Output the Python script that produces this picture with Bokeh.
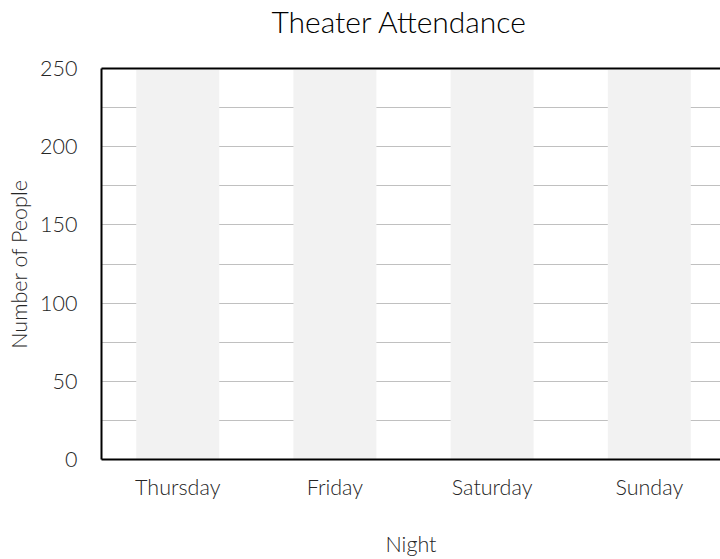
import numpy as np
from bokeh.plotting import figure
from bokeh.models import Range1d, FixedTicker, SingleIntervalTicker, LinearAxis
from bokeh.embed import file_html
from bokeh.resources import INLINE

nights = ["Thursday", "Friday", "Saturday", "Sunday"]
attendance = [249, 249, 249, 249]

FONT = "Lato Light"
TXT = "#262626"

xs = np.arange(len(nights)) + 0.5

p = figure(width=720, height=559, output_backend="svg", toolbar_location=None,
           x_range=Range1d(0.015, 3.953), y_range=Range1d(0, 250),
           min_border_left=101, min_border_right=0, min_border_top=0, min_border_bottom=0)

p.title.text = "Theater Attendance"
p.title.align = "left"
p.title.offset = 170
p.title.vertical_align = "top"
p.title.text_font = FONT
p.title.text_font_size = "30px"
p.title.text_font_style = "normal"
p.title.text_color = "#000000"
p.title.text_line_height = 1.2
p.title.standoff = 4

p.vbar(x=xs, top=attendance, bottom=0, width=0.528, fill_color="#f2f2f2", line_color=None)

p.outline_line_color = None
p.background_fill_color = "white"
p.border_fill_color = "white"

# x axis
xa = p.xaxis[0]
xa.ticker = FixedTicker(ticks=list(xs))
xa.major_label_overrides = {float(x): n for x, n in zip(xs, nights)}
xa.major_tick_line_color = None
xa.major_tick_out = 0
xa.major_tick_in = 0
xa.minor_tick_line_color = None
xa.axis_line_color = "black"
xa.axis_line_width = 2
xa.major_label_text_font = FONT
xa.major_label_text_font_size = "21.5px"
xa.major_label_text_color = TXT
xa.major_label_standoff = 14
xa.axis_label = "Night"
xa.axis_label_text_font = FONT
xa.axis_label_text_font_size = "21.5px"
xa.axis_label_text_font_style = "normal"
xa.axis_label_text_color = TXT
xa.axis_label_text_line_height = 0.65
xa.axis_label_standoff = 28

# y axis
ya = p.yaxis[0]
ya.ticker = SingleIntervalTicker(interval=50, num_minor_ticks=2)
ya.major_tick_line_color = None
ya.major_tick_out = 0
ya.major_tick_in = 0
ya.minor_tick_line_color = None
ya.axis_line_color = "black"
ya.axis_line_width = 2
ya.major_label_text_font = FONT
ya.major_label_text_font_size = "21.5px"
ya.major_label_text_color = TXT
ya.major_label_standoff = 20
ya.axis_label = "Number of People"
ya.axis_label_text_font = FONT
ya.axis_label_text_font_size = "21.5px"
ya.axis_label_text_font_style = "normal"
ya.axis_label_text_color = TXT
ya.axis_label_standoff = 5

# top border line; a blank axis label reserves the gap under the title
top = LinearAxis(major_tick_line_color=None, minor_tick_line_color=None, major_tick_out=0,
                 major_tick_in=0, major_label_text_font_size="0px", axis_line_color="black",
                 axis_line_width=2, ticker=FixedTicker(ticks=[]),
                 axis_label=" ", axis_label_standoff=18, axis_label_text_font_size="4px")
p.add_layout(top, "above")

p.xgrid.grid_line_color = None
p.ygrid.grid_line_color = "#c0c0c0"
p.ygrid.grid_line_width = 1
p.ygrid.minor_grid_line_color = "#c0c0c0"
p.ygrid.minor_grid_line_width = 1

open("out.html", "w").write(file_html(p, INLINE))
